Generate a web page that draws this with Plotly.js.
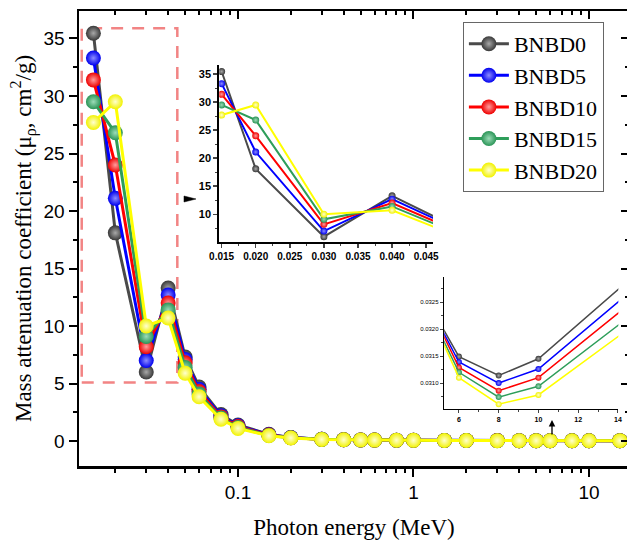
<!DOCTYPE html>
<html>
<head>
<meta charset="utf-8">
<script src="https://cdn.plot.ly/plotly-3.0.1.min.js"></script>
<style>
html,body{margin:0;padding:0;overflow:hidden;background:#fff;}
#chart{width:630px;height:542px;}
</style>
</head>
<body>
<div id="chart"></div>
<script>
// Photon energies (MeV)
const energies = [0.015,0.02,0.03,0.04,0.05,0.06,0.08,0.1,0.15,0.2,0.3,0.4,0.5,0.6,0.8,1,1.5,2,3,4,5,6,8,10,15];
// Mass attenuation coefficients (cm^2/g)
const bnbd0  = [35.46,18.1,6.0,13.3,7.3,4.7,2.3,1.4,0.58,0.31,0.16,0.12,0.098,0.086,0.072,0.064,0.051,0.044,0.037,0.034,0.03214,0.03149,0.03114,0.03145,0.03305];
const bnbd5  = [33.3,21.1,7.0,12.7,7.1,4.5,2.2,1.33,0.55,0.30,0.155,0.117,0.097,0.085,0.071,0.064,0.051,0.044,0.037,0.034,0.03209,0.03139,0.03100,0.03126,0.03281];
const bnbd10 = [31.4,24.0,8.2,12.0,6.8,4.3,2.1,1.26,0.52,0.29,0.15,0.114,0.095,0.084,0.071,0.063,0.051,0.044,0.037,0.034,0.03205,0.03129,0.03086,0.03110,0.03259];
const bnbd15 = [29.5,26.8,9.1,11.4,6.4,4.1,2.0,1.18,0.49,0.28,0.145,0.111,0.093,0.083,0.070,0.063,0.050,0.044,0.036,0.034,0.03196,0.03120,0.03074,0.03094,0.03235];
const bnbd20 = [27.7,29.5,10.0,10.7,5.9,3.85,1.9,1.1,0.46,0.27,0.14,0.108,0.091,0.082,0.070,0.062,0.050,0.043,0.036,0.033,0.03191,0.03110,0.03061,0.03078,0.03213];

const names = ["BNBD0","BNBD5","BNBD10","BNBD15","BNBD20"];
const seriesList = [bnbd0,bnbd5,bnbd10,bnbd15,bnbd20];
const lineColors = ["#4a4a4a","#0000ff","#ff0000","#2e9e5a","#ffff00"];
const markerColors = ["#383838","#0000ee","#ee0000","#2a9456","#f2f200"];
const gradColors = ["#a8a8a8","#8c8cff","#ff9c9c","#9cdcb8","#ffffd0"];

const traces = [];
// main plot
seriesList.forEach((s,i)=>{
  traces.push({
    x: energies, y: s, name: names[i], type:'scatter', mode:'lines+markers',
    xaxis:'x', yaxis:'y',
    line:{color:lineColors[i], width:3},
    marker:{size:15, color:markerColors[i], gradient:{type:'radial', color:gradColors[i]}, line:{width:0}},
    hoverinfo:'skip'
  });
});
// inset 1 (low energy)
seriesList.forEach((s,i)=>{
  traces.push({
    x: energies, y: s, name: names[i], type:'scatter', mode:'lines+markers',
    xaxis:'x2', yaxis:'y2', showlegend:false,
    line:{color:lineColors[i], width:2},
    marker:{size:7, color:markerColors[i], gradient:{type:'radial', color:gradColors[i]}, line:{width:0}},
    hoverinfo:'skip'
  });
});
// inset 2 (high energy)
seriesList.forEach((s,i)=>{
  traces.push({
    x: energies, y: s, name: names[i], type:'scatter', mode:'lines+markers',
    xaxis:'x3', yaxis:'y3', showlegend:false,
    line:{color:lineColors[i], width:1.5},
    marker:{size:6, color:markerColors[i], gradient:{type:'radial', color:gradColors[i]}, line:{width:0}},
    hoverinfo:'skip'
  });
});
// invisible trace carrying mirror axes
traces.push({x: energies, y: bnbd0, xaxis:'x4', yaxis:'y4', mode:'lines', opacity:0, showlegend:false, hoverinfo:'skip', line:{width:1}});

const mainRangeX = [-1.906, 1.228];
const mainRangeY = [-2.17, 37.39];

const layout = {
  width:630, height:542,
  margin:{l:79, r:1, t:11, b:76},
  paper_bgcolor:'#fff', plot_bgcolor:'rgba(0,0,0,0)',
  showlegend:true,
  legend:{x:0.698, y:0.976, xanchor:'left', yanchor:'top', bgcolor:'#fff',
    bordercolor:'#666', borderwidth:1, font:{family:'Liberation Serif', size:22, color:'#000'},
    tracegroupgap:0, itemwidth:40},
  font:{family:'Liberation Sans', color:'#000'},
  xaxis:{type:'log', range:mainRangeX, domain:[0,1], anchor:'y',
    showline:true, linewidth:2.5, linecolor:'#000', mirror:false,
    ticks:'outside', ticklen:8, tickwidth:2, tickcolor:'#000', dtick:1,
    minor:{ticks:'outside', ticklen:4, tickwidth:2, tickcolor:'#000', dtick:'D1', showgrid:false},
    showgrid:false, zeroline:false,
    tickfont:{family:'Liberation Sans', size:19, color:'#000'},
    title:{text:'Photon energy (MeV)', font:{family:'Liberation Serif', size:23, color:'#000'}, standoff:17}},
  yaxis:{range:mainRangeY, domain:[0,1], anchor:'x',
    showline:true, linewidth:2.5, linecolor:'#000',
    ticks:'outside', ticklen:8, tickwidth:2, tickcolor:'#000', dtick:5, tick0:0,
    minor:{ticks:'outside', ticklen:4, tickwidth:2, tickcolor:'#000', dtick:2.5, showgrid:false},
    showgrid:false, zeroline:false,
    tickfont:{family:'Liberation Sans', size:19, color:'#000'},
    title:{text:'Mass attenuation coefficient (μ<sub>ρ</sub>, cm<sup>2</sup>/g)', font:{family:'Liberation Serif', size:23, color:'#000'}, standoff:6}},
  xaxis4:{type:'log', range:mainRangeX, overlaying:'x', side:'top', anchor:'y4',
    showline:true, linewidth:2.5, linecolor:'#000', showticklabels:false,
    ticks:'inside', ticklen:8, tickwidth:2, tickcolor:'#000', dtick:1,
    minor:{ticks:'inside', ticklen:4, tickwidth:2, tickcolor:'#000', dtick:'D1', showgrid:false},
    showgrid:false, zeroline:false},
  yaxis4:{range:mainRangeY, overlaying:'y', side:'right', anchor:'x4',
    showline:true, linewidth:2.5, linecolor:'#000', showticklabels:false,
    ticks:'inside', ticklen:8, tickwidth:2, tickcolor:'#000', dtick:5, tick0:0,
    minor:{ticks:'inside', ticklen:4, tickwidth:2, tickcolor:'#000', dtick:2.5, showgrid:false},
    showgrid:false, zeroline:false},
  // inset 1
  xaxis2:{domain:[0.255,0.6436], anchor:'y2', range:[0.01465,0.046],
    showline:true, linewidth:2, linecolor:'#000', ticks:'outside', ticklen:4, tickwidth:1.5,
    dtick:0.005, tick0:0.015, tickformat:'.3f',
    minor:{ticks:'outside', ticklen:2, tickwidth:1, dtick:0.0025, showgrid:false},
    showgrid:false, zeroline:false,
    tickfont:{family:'Liberation Sans', size:10, weight:'bold', color:'#000'}},
  yaxis2:{domain:[0.493,0.881], anchor:'x2', range:[5.11,36.6],
    showline:true, linewidth:2, linecolor:'#000', ticks:'outside', ticklen:4, tickwidth:1.5,
    dtick:5, tick0:10,
    minor:{ticks:'outside', ticklen:2, tickwidth:1, dtick:2.5, showgrid:false},
    showgrid:false, zeroline:false,
    tickfont:{family:'Liberation Sans', size:11, weight:'bold', color:'#000'}},
  // inset 2
  xaxis3:{domain:[0.664,0.9806], anchor:'y3', range:[5.26,14.02],
    showline:true, linewidth:1.5, linecolor:'#000', ticks:'outside', ticklen:3, tickwidth:1,
    dtick:2, tick0:6,
    minor:{ticks:'outside', ticklen:2, tickwidth:1, dtick:1, showgrid:false},
    showgrid:false, zeroline:false,
    tickfont:{family:'Liberation Sans', size:7, weight:'bold', color:'#000'}},
  yaxis3:{domain:[0.1253,0.416], anchor:'x3', range:[0.03052,0.03297],
    showline:true, linewidth:1.5, linecolor:'#000', ticks:'outside', ticklen:3, tickwidth:1,
    dtick:0.0005, tick0:0.031, tickformat:'.4f',
    minor:{ticks:'outside', ticklen:2, tickwidth:1, dtick:0.00025, showgrid:false},
    showgrid:false, zeroline:false,
    tickfont:{family:'Liberation Sans', size:6, color:'#000'}},
  shapes:[
    {type:'rect', xref:'x', yref:'y', x0:0.01287, x1:0.0451, y0:5.1, y1:35.9,
      line:{color:'rgba(240,110,110,0.85)', width:2.5, dash:'12px,9px'}, fillcolor:'rgba(0,0,0,0)', layer:'below'},
    {type:'path', xref:'paper', yref:'paper',
      path:'M 0.1909 0.5934 L 0.2127 0.5868 L 0.1909 0.5802 Z',
      fillcolor:'#000', line:{color:'#000', width:0.5}}
  ],
  annotations:[
    {xref:'paper', yref:'paper', x:0.86, y:0.101, ax:0, ay:16, text:'', showarrow:true,
      arrowhead:2, arrowsize:1, arrowwidth:1.3, arrowcolor:'#000'}
  ]
};

Plotly.newPlot('chart', traces, layout, {displayModeBar:false, staticPlot:true});
</script>
</body>
</html>
